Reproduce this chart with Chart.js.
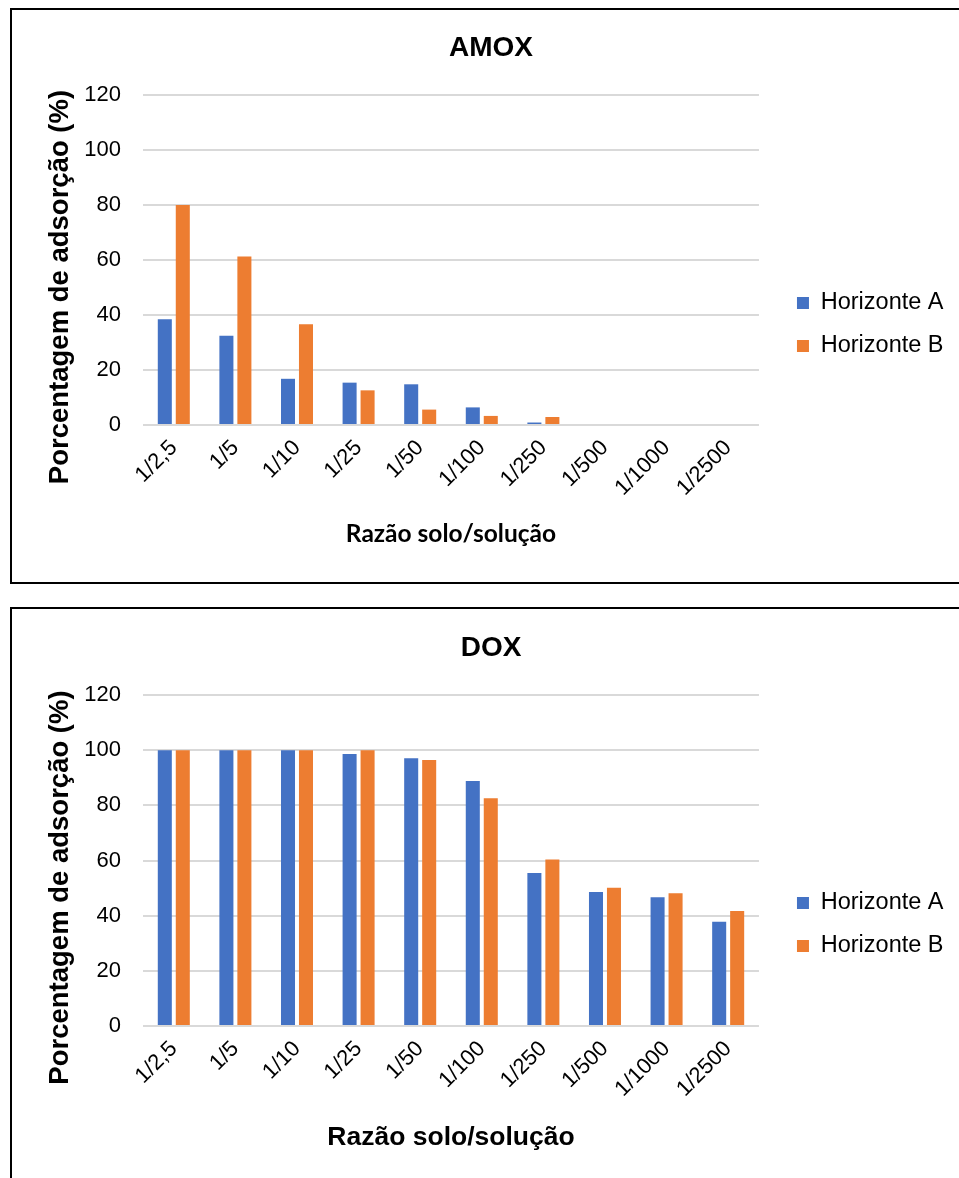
<!DOCTYPE html>
<html>
<head>
<meta charset="utf-8">
<script src="https://cdn.jsdelivr.net/npm/chart.js@4.4.1/dist/chart.umd.min.js"></script>
<style>
  html, body { margin: 0; padding: 0; background: #fff; overflow: hidden; }
  .box { position: absolute; left: 10px; width: 962px; height: 576px; border: 2px solid #000; box-sizing: border-box; background: #fff; }
  #boxAmox { top: 8px; }
  #boxDox { top: 607px; }
  .box canvas { position: absolute; left: 0; top: 0; }
</style>
</head>
<body>
<div class="box" id="boxAmox"><canvas id="amox" width="958" height="572"></canvas></div>
<div class="box" id="boxDox"><canvas id="dox" width="958" height="572"></canvas></div>
<script>
// Soil/solution ratios
const categories = ['1/2,5', '1/5', '1/10', '1/25', '1/50', '1/100', '1/250', '1/500', '1/1000', '1/2500'];
const seriesNames = ['Horizonte A', 'Horizonte B'];

// Adsorption percentage, AMOX
const amoxA = [38.5, 32.5, 16.8, 15.4, 14.8, 6.4, 0.9, 0, 0, 0];
const amoxB = [80.0, 61.3, 36.6, 12.6, 5.6, 3.3, 2.9, 0, 0, 0];

// Adsorption percentage, DOX
const doxA = [100, 100, 100, 98.6, 97.1, 88.8, 55.5, 48.6, 46.7, 37.8];
const doxB = [100, 100, 100, 100, 96.4, 82.6, 60.4, 50.1, 48.1, 41.7];

// Value axis
const yMin = 0;
const yMax = 120;
const yStep = 20;

const colors = ['#4472C4', '#ED7D31'];
const ARIAL = '"Liberation Sans", Arial, sans-serif';
const yTitleText = 'Porcentagem de adsorção (%)';
const xTitleText = 'Razão solo/solução';

// Chart heading centred across the whole frame, and the rotated value-axis title
const headingPlugin = {
  id: 'heading',
  afterDraw(chart, args, opts) {
    const { ctx, chartArea } = chart;
    ctx.save();
    ctx.fillStyle = '#000';
    ctx.textAlign = 'center';
    ctx.textBaseline = 'middle';

    ctx.font = 'bold ' + opts.titleSize + 'px ' + ARIAL;
    ctx.fillText(opts.title, chart.width / 2, opts.titleY);

    ctx.font = 'bold ' + opts.ySize + 'px ' + ARIAL;
    ctx.translate(opts.yX, (chartArea.top + chartArea.bottom) / 2 + opts.yShift);
    ctx.rotate(-Math.PI / 2);
    ctx.fillText(yTitleText, 0, 0);
    ctx.restore();
  }
};

function makeChart(id, title, a, b, cfg) {
  return new Chart(document.getElementById(id), {
    type: 'bar',
    data: {
      labels: categories,
      datasets: [
        { label: seriesNames[0], data: a, backgroundColor: colors[0], borderWidth: 0 },
        { label: seriesNames[1], data: b, backgroundColor: colors[1], borderWidth: 0 }
      ]
    },
    options: {
      responsive: false,
      animation: false,
      devicePixelRatio: 1,
      categoryPercentage: 0.584,
      barPercentage: 0.78,
      layout: { padding: { left: 0, right: 16.5, top: cfg.top, bottom: 0 } },
      scales: {
        x: {
          grid: { display: false, drawTicks: false },
          border: { display: false },
          ticks: {
            autoSkip: false,
            minRotation: 45,
            maxRotation: 45,
            padding: 10,
            color: '#000',
            font: { family: ARIAL, size: 22 }
          },
          title: {
            display: true,
            text: xTitleText,
            color: '#000',
            font: cfg.xTitleFont,
            padding: { top: 0, bottom: cfg.xTitlePad }
          },
          afterFit(s) { s.height = cfg.xHeight; }
        },
        y: {
          min: yMin,
          max: yMax,
          grid: { color: '#d9d9d9', lineWidth: 2, drawTicks: false },
          border: { display: false },
          ticks: {
            stepSize: yStep,
            padding: 22,
            color: '#000',
            font: { family: ARIAL, size: 22 }
          },
          afterFit(s) { s.width = 131; }
        },
        gap: {
          type: 'linear',
          position: 'right',
          display: true,
          grid: { display: false, drawTicks: false },
          border: { display: false },
          ticks: { display: false },
          afterFit(s) { s.width = 18.5; }
        }
      },
      plugins: {
        title: { display: false },
        legend: {
          position: 'right',
          align: 'start',
          maxWidth: 300,
          title: {
            display: true,
            text: ' ',
            font: { size: 1, lineHeight: 1 },
            padding: { top: 175.75, bottom: 0 }
          },
          labels: {
            boxWidth: 12,
            boxHeight: 12,
            padding: 19.5,
            color: '#000',
            font: { family: ARIAL, size: 23.5 }
          }
        },
        tooltip: { enabled: false },
        heading: {
          title: title,
          titleSize: 28,
          titleY: cfg.titleY,
          yX: 48,
          yShift: 27,
          ySize: 27.5
        }
      }
    },
    plugins: [headingPlugin]
  });
}

makeChart('amox', 'AMOX', amoxA, amoxB, {
  top: 85, titleY: 38,
  xHeight: 157, xTitlePad: 33,
  xTitleFont: { family: 'Lato, "Open Sans", sans-serif', size: 24.5, weight: 'bold', lineHeight: 1.2 }
});

makeChart('dox', 'DOX', doxA, doxB, {
  top: 86, titleY: 39,
  xHeight: 155, xTitlePad: 27,
  xTitleFont: { family: ARIAL, size: 26.5, weight: 'bold', lineHeight: 1.2 }
});
</script>
</body>
</html>
